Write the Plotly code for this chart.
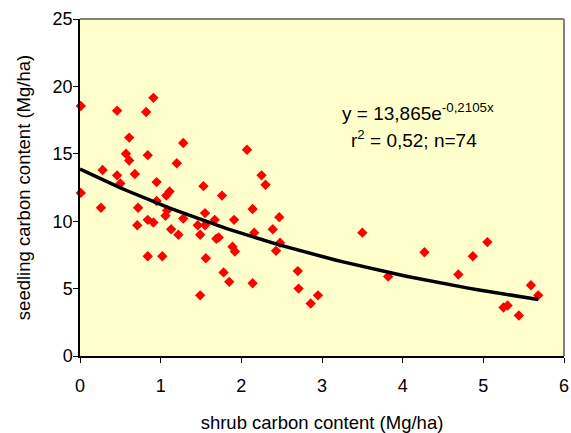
import numpy as np
import plotly.graph_objects as go

# shrub carbon content (Mg/ha)
shrub_c = [0.01, 0.46, 0.91, 0.82, 0.61, 0.57, 0.61, 0.84, 1.28, 1.20,
           0.28, 0.46, 0.50, 0.68, 0.95, 0.01, 0.26, 0.72, 0.95, 1.07,
           1.11, 1.53, 1.76, 1.08, 1.06, 0.84, 0.91, 0.71, 1.13, 1.28,
           1.55, 1.46, 1.55, 1.67, 1.91, 2.07, 2.25, 2.30, 2.14, 2.47,
           1.22, 1.49, 1.69, 1.72, 2.16, 2.39, 2.48, 2.43, 1.89, 1.92,
           0.84, 1.02, 1.56, 1.78, 1.85, 2.14, 2.70, 2.71, 2.95, 2.86,
           1.49, 3.50, 3.82, 4.27, 4.69, 4.87, 5.05, 5.59, 5.68, 5.25,
           5.30, 5.44]
# seedling carbon content (Mg/ha)
seedling_c = [18.55, 18.2, 19.15, 18.1, 16.2, 15.0, 14.5, 14.9, 15.8, 14.3,
              13.8, 13.4, 12.8, 13.5, 12.9, 12.1, 11.0, 11.0, 11.5, 11.9,
              12.2, 12.6, 11.9, 10.8, 10.4, 10.1, 9.9, 9.7, 9.4, 10.2,
              10.6, 9.7, 9.7, 10.1, 10.1, 15.3, 13.4, 12.7, 10.9, 10.3,
              9.0, 9.0, 8.7, 8.8, 9.15, 9.4, 8.4, 7.8, 8.1, 7.75,
              7.4, 7.4, 7.25, 6.2, 5.5, 5.4, 6.3, 5.0, 4.5, 3.9,
              4.5, 9.15, 5.9, 7.7, 6.05, 7.4, 8.45, 5.25, 4.5, 3.6,
              3.75, 3.0]

# exponential trendline coefficients as printed on the chart
trend_a = 13.865
trend_b = -0.2105
trend_x_max = 5.68
x_ticks = [0, 1, 2, 3, 4, 5, 6]
y_ticks = [0, 5, 10, 15, 20, 25]

tx = np.linspace(0, trend_x_max, 60)
ty = trend_a * np.exp(trend_b * tx)

font = "Liberation Sans, Arial, sans-serif"

fig = go.Figure()
fig.add_trace(go.Scatter(
    x=shrub_c, y=seedling_c, mode="markers",
    marker=dict(symbol="diamond", size=8, color="#FF0000", line=dict(width=0)),
    cliponaxis=False, showlegend=False))
fig.add_trace(go.Scatter(
    x=tx, y=ty, mode="lines", line=dict(color="black", width=3.5),
    showlegend=False))

fig.add_annotation(x=0.537, y=0.725, xref="paper", yref="paper",
                   text="y = 13,865e<sup>-0,2105x</sup>", showarrow=False,
                   font=dict(family=font, size=19, color="black"),
                   xanchor="left", yanchor="middle")
fig.add_annotation(x=0.555, y=0.644, xref="paper", yref="paper",
                   text="r<sup>2</sup> = 0,52; n=74", showarrow=False,
                   font=dict(family=font, size=19, color="black"),
                   xanchor="left", yanchor="middle")

# grey frame on top and right of plot area
fig.add_shape(type="line", xref="paper", yref="paper", x0=0, x1=1, y0=1, y1=1,
              line=dict(color="#808080", width=2))
fig.add_shape(type="line", xref="paper", yref="paper", x0=1, x1=1, y0=0, y1=1,
              line=dict(color="#808080", width=2))

axis_common = dict(showgrid=False, zeroline=False, showline=True,
                   linecolor="black", linewidth=1.5, mirror=False,
                   ticks="outside", ticklen=5, tickcolor="black", tickwidth=1,
                   automargin=False,
                   tickfont=dict(family=font, size=18, color="black"))

fig.update_xaxes(range=[0, 6], tickvals=x_ticks, ticklabelstandoff=8,
                 title=dict(text="shrub carbon content (Mg/ha)",
                            font=dict(family=font, size=18.5, color="black"),
                            standoff=22),
                 **axis_common)
fig.update_yaxes(range=[0, 25], tickvals=y_ticks, ticklabelstandoff=-3,
                 title=dict(text="seedling carbon content (Mg/ha)",
                            font=dict(family=font, size=18.5, color="black"),
                            standoff=17),
                 **axis_common)

fig.update_layout(width=571, height=433,
                  margin=dict(l=80, r=7, t=19, b=77),
                  plot_bgcolor="#FFFFCC", paper_bgcolor="white",
                  font=dict(family=font))

# remove the default page-body margin so the figure fills the window exactly
fig.write_html("out.html",
               config={"displayModeBar": False},
               post_script="document.body.style.margin='0';"
                           "document.body.style.overflow='hidden';")
